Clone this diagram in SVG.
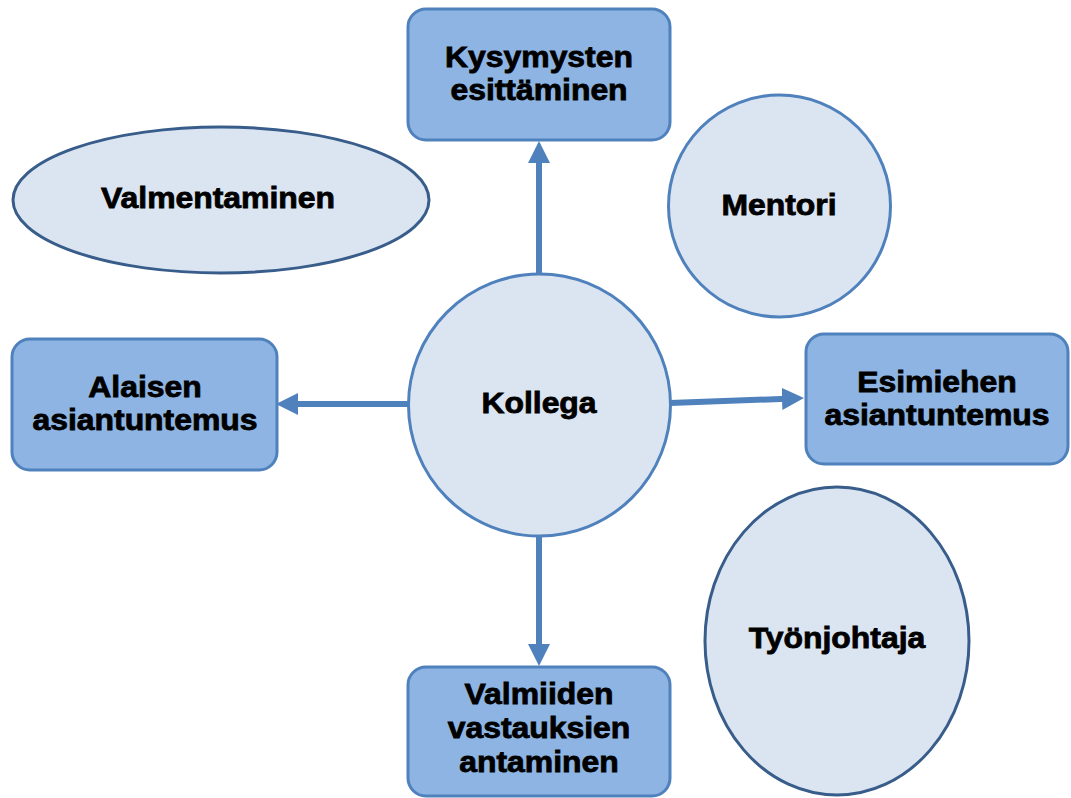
<svg xmlns="http://www.w3.org/2000/svg" width="1071" height="798" viewBox="0 0 1071 798">
  <defs>
    <marker id="head" markerUnits="userSpaceOnUse" markerWidth="22" markerHeight="22" viewBox="0 0 20 20" refX="10" refY="10" orient="auto">
      <path d="M0,0 L20,10 L0,20 z" fill="#4F81BD"/>
    </marker>
    <style>
      .box { fill: #8DB4E2; stroke: #4F81BD; stroke-width: 3; }
      .round { fill: #DBE5F1; stroke: #4F81BD; stroke-width: 3; }
      .oval { fill: #DBE5F1; stroke: #385D8A; stroke-width: 3; }
      .lbl { font-family: "Liberation Sans", Arial, sans-serif; font-weight: bold; font-size: 29px; fill: #000; stroke: #000; stroke-width: 0.8; text-anchor: middle; }
      .link { stroke: #4F81BD; stroke-width: 6; fill: none; marker-end: url(#head); }
    </style>
  </defs>
  <rect width="1071" height="798" fill="#FFFFFF"/>

  <g id="connectors">
    <line class="link" x1="539" y1="274" x2="539" y2="152"/>
    <line class="link" x1="409" y1="404" x2="287" y2="404"/>
    <line class="link" x1="670" y1="403" x2="793" y2="398.5"/>
    <line class="link" x1="539" y1="535" x2="539" y2="655"/>
  </g>

  <g id="kysymysten">
    <rect class="box" x="408" y="9" width="262" height="131" rx="18"/>
    <text class="lbl" transform="translate(539,67) scale(1.1,1)">Kysymysten</text>
    <text class="lbl" transform="translate(539,100) scale(1.1,1)">esittäminen</text>
  </g>

  <g id="valmentaminen">
    <ellipse class="oval" cx="221" cy="200" rx="208" ry="73"/>
    <text class="lbl" transform="translate(218,208) scale(1.1,1)">Valmentaminen</text>
  </g>

  <g id="mentori">
    <circle class="round" cx="779.5" cy="206" r="111"/>
    <text class="lbl" transform="translate(779,215) scale(1.1,1)">Mentori</text>
  </g>

  <g id="alaisen">
    <rect class="box" x="12" y="339" width="265" height="131" rx="18"/>
    <text class="lbl" transform="translate(145,397) scale(1.1,1)">Alaisen</text>
    <text class="lbl" transform="translate(145,430) scale(1.1,1)">asiantuntemus</text>
  </g>

  <g id="kollega">
    <circle class="round" cx="539.5" cy="405" r="131"/>
    <text class="lbl" transform="translate(539,413) scale(1.1,1)">Kollega</text>
  </g>

  <g id="esimiehen">
    <rect class="box" x="806" y="334" width="262" height="130" rx="18"/>
    <text class="lbl" transform="translate(937,392) scale(1.1,1)">Esimiehen</text>
    <text class="lbl" transform="translate(937,425) scale(1.1,1)">asiantuntemus</text>
  </g>

  <g id="tyonjohtaja">
    <ellipse class="oval" cx="837" cy="641" rx="132" ry="154"/>
    <text class="lbl" transform="translate(837,648) scale(1.1,1)">Työnjohtaja</text>
  </g>

  <g id="valmiiden">
    <rect class="box" x="408" y="667" width="262" height="129" rx="18"/>
    <text class="lbl" transform="translate(539,704) scale(1.1,1)">Valmiiden</text>
    <text class="lbl" transform="translate(539,738) scale(1.1,1)">vastauksien</text>
    <text class="lbl" transform="translate(539,772) scale(1.1,1)">antaminen</text>
  </g>
</svg>
